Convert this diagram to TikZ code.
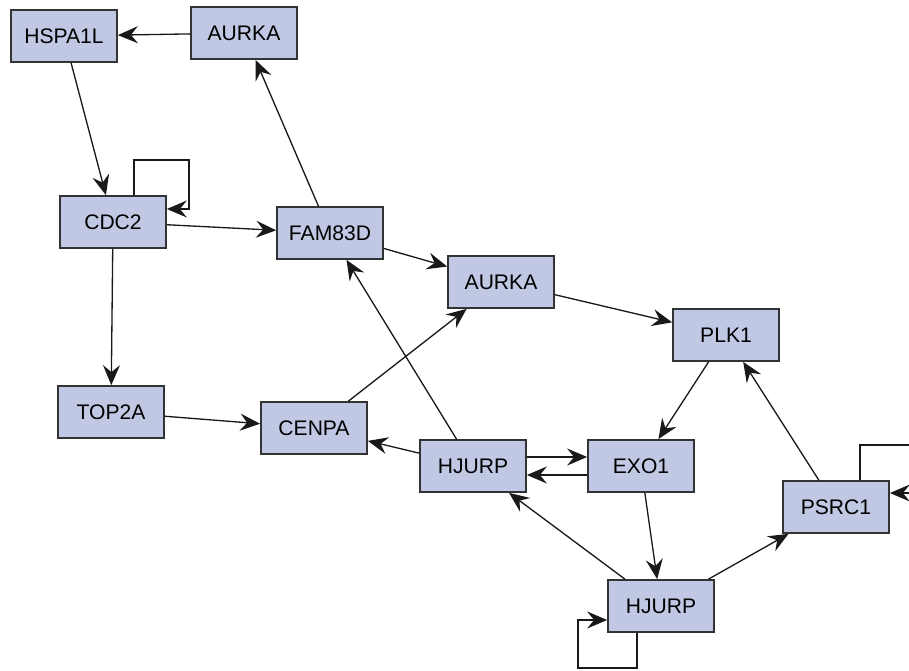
\documentclass[tikz,border=0pt]{standalone}
\usepackage{fontspec}
\setmainfont{Liberation Sans}
\usetikzlibrary{arrows.meta}
\definecolor{boxfill}{RGB}{193,200,228}
\tikzset{
    genebox/.style={draw=black!80,line width=1pt,fill=boxfill,minimum width=2.12cm,minimum height=1.04cm,inner sep=0pt,font=\fontsize{12}{14}\selectfont},
    link/.style={-{Stealth[length=4mm,width=3.4mm,inset=1.4mm]},line width=0.75pt,black!90}
}

\begin{document}
\begin{tikzpicture}[x=0.02cm,y=-0.02cm]
        \useasboundingbox (0,0) rectangle (909,670);
        \clip (0,0) rectangle (909,670);
        \node[genebox] (hspa) at (64,36) {HSPA1L};
        \node[genebox] (aurkaT) at (244,33) {AURKA};
        \node[genebox] (cdc) at (113,222) {CDC2};
        \node[genebox] (fam) at (330,233) {FAM83D};
        \node[genebox] (aurkaM) at (501,282) {AURKA};
        \node[genebox] (plk) at (726,335) {PLK1};
        \node[genebox] (top) at (111,412) {TOP2A};
        \node[genebox] (cenpa) at (314,428) {CENPA};
        \node[genebox] (hjurpM) at (473,466) {HJURP};
        \node[genebox] (exo) at (641,466) {EXO1};
        \node[genebox] (psrc) at (836,507) {PSRC1};
        \node[genebox] (hjurpB) at (661,606) {HJURP};
        \draw [link] (aurkaT) -- (hspa);
        \draw [link] (hspa) -- (cdc);
        \draw [link] ([xshift=4.2mm]cdc.north) |- ++(55,-35) |- ([yshift=2.6mm]cdc.east);
        \draw [link] (cdc) -- (fam);
        \draw [link] (fam) -- (aurkaT);
        \draw [link] (fam) -- (aurkaM);
        \draw [link] (cdc) -- (top);
        \draw [link] (top) -- (cenpa);
        \draw [link] (cenpa) -- (aurkaM);
        \draw [link] (aurkaM) -- (plk);
        \draw [link] (hjurpM) -- (fam);
        \draw [link] (hjurpM) -- (cenpa);
        \draw [link] ([yshift=1.8mm]hjurpM.east) -- ([yshift=1.8mm]exo.west);
        \draw [link] ([yshift=-1.8mm]exo.west) -- ([yshift=-1.8mm]hjurpM.east);
        \draw [link] (plk) -- (exo);
        \draw [link] (exo) -- (hjurpB);
        \draw [link] (hjurpB) -- (hjurpM);
        \draw [link] ([xshift=-4.8mm]hjurpB.south) |- ++(-59,35) |- ([yshift=-2.8mm]hjurpB.west);
        \draw [link] (hjurpB) -- (psrc);
        \draw [link] (psrc) -- (plk);
        \draw [link] ([xshift=4.8mm]psrc.north) |- ++(80,-35) |- ([yshift=2.8mm]psrc.east);
    \end{tikzpicture}
\end{document}
